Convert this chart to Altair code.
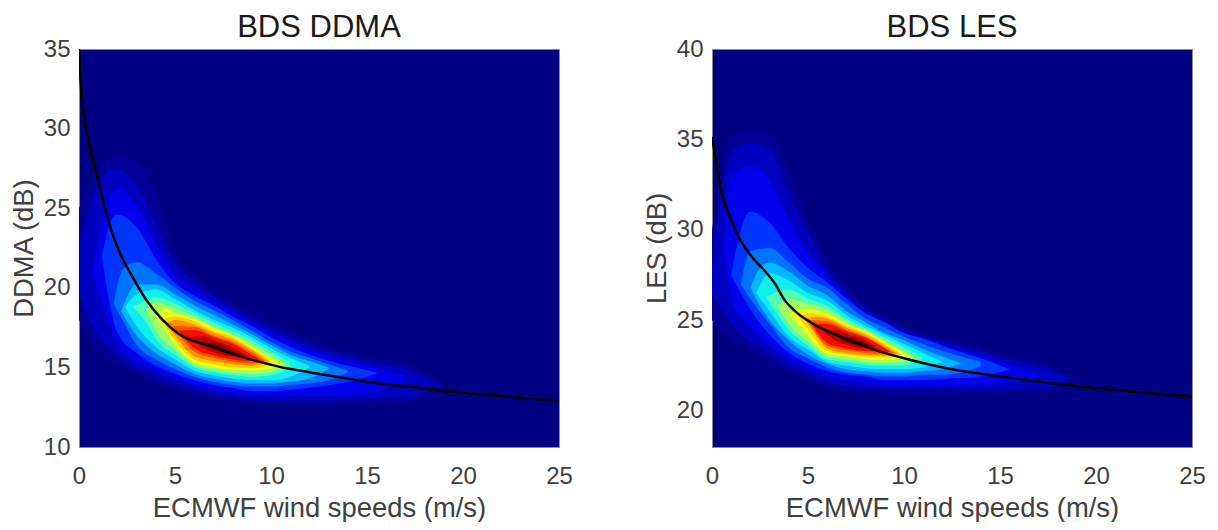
import altair as alt
import pandas as pd

NAVY = "#000082"
LEVEL_COLORS = ["#000096", "#0000c0", "#0000ec", "#0034ff", "#0074ff", "#00b8ff", "#10eef0", "#50ffb0",
                "#a0ff60", "#e8ff18", "#ffd000", "#ff9000", "#ff5000", "#f01000", "#b80000", "#800000"]

# DDMA density bands: (x, upper edge, lower edge), outermost first
ddma_x = [
    [0,1,2,3,4,5,6,7.5,10,12.5,15,17.5,19],
    [0,1,2,3,4,5,6,7.5,10,12.5,15,17.5,18.5],
    [0.7,1.5,2,3,4,5,6,7.5,10,12.5,15,17],
    [1.2,1.6,2,3,4,5,6,7,8,9,10,11,12.5,14,15.5],
    [1.8,2.3,3,4,5,6,7,8,9,10,11,12,13,14],
    [2.2,3,4,5,6,7,8,9,10,11,12,13],
    [2.4,3,4,5,6,7,8,9,10,11,12],
    [2.8,3.5,4,5,6,7,8,9,10,11],
    [3.5,4,5,6,7,8,9,10,10.8],
    [4,4.5,5,6,7,8,9,10,10.6],
    [4.3,5,6,7,8,9,10],
    [4.6,5,6,7,8,9,9.9],
    [4.9,6,7,8,9,9.7],
    [5.2,6,7,8,9,9.4],
    [5.8,6.5,7,8,8.8],
    [6.3,7,8,8.3],
]
ddma_hi = [
    [25,27.5,28.3,28,26,22.5,20.8,19.4,17.8,16.5,15.7,15,14],
    [22.5,26.5,27.5,26.5,24,21.5,20.4,19.1,17.5,16.2,15.4,14.7,14.1],
    [21,25.5,26.2,25.2,22.8,20.8,19.9,18.8,17.2,15.9,15.1,14.5],
    [22,24,24.6,23.8,21.8,20.3,19.5,18.9,18.2,17.6,16.9,16.3,15.6,15.1,14.7],
    [19,21.2,21.6,20.9,20,19.2,18.6,18,17.3,16.6,16,15.6,15.2,14.8],
    [18.5,20.2,20.2,19.6,18.9,18.3,17.7,17.1,16.4,15.8,15.4,15],
    [18.8,19.6,19.9,19.3,18.6,18,17.5,16.9,16.2,15.6,15.1],
    [18.8,19.2,19.4,19,18.4,17.8,17.3,16.7,16,15.3],
    [18.6,19.1,18.7,18.2,17.6,17.1,16.5,15.8,15.2],
    [18.2,18.7,18.4,18.05,17.5,17,16.3,15.6,15.2],
    [18,18.2,17.9,17.3,16.9,16.2,15.4],
    [17.7,18,17.7,17.2,16.75,16.1,15.35],
    [17.6,17.55,17,16.6,15.95,15.4],
    [17.3,17.35,16.9,16.5,15.8,15.5],
    [16.9,16.95,16.7,16.25,15.7],
    [16.6,16.55,16.05,15.85],
]
ddma_lo = [
    [18,16,15.2,14.5,14,13.6,13.3,13,12.7,12.6,12.7,12.9,13.5],
    [19.5,17,15.8,15,14.4,14,13.6,13.2,12.9,12.9,13,13.2,14],
    [21,18,16.5,15.4,14.8,14.3,13.9,13.5,13.2,13.2,13.4,14.1],
    [22,19,17.2,15.9,15.1,14.6,14.2,13.9,13.7,13.5,13.5,13.6,13.8,14.1,14.6],
    [19,17.9,16.4,15.5,14.9,14.4,14.1,13.9,13.8,13.8,13.9,14,14.2,14.7],
    [18.5,17,15.9,15.2,14.6,14.3,14.1,14,14,14.1,14.3,14.9],
    [18.8,17.6,16.3,15.5,14.8,14.5,14.3,14.2,14.2,14.4,15],
    [18.8,17.8,16.8,15.8,15,14.7,14.5,14.4,14.5,15],
    [18.6,17.3,16.1,15.15,14.85,14.65,14.6,14.7,15.2],
    [18.2,17.3,16.4,15.3,15,14.85,14.8,14.9,15.2],
    [18,16.7,15.5,15.2,15,14.95,15.2],
    [17.7,17,15.7,15.4,15.2,15.1,15.35],
    [17.6,16,15.6,15.35,15.25,15.4],
    [17.3,16.2,15.75,15.5,15.4,15.5],
    [16.9,16.2,15.95,15.7,15.7],
    [16.6,16.15,15.85,15.85],
]
ddma_curve_x = [0,0.08,0.18,0.36,0.6,0.87,1.3,1.74,2.26,2.78,3.47,4.34,5.2,6.94,8.68,10.4,12,14,15,17,20,22,25]
ddma_curve_y = [35,33,31.5,30,28.6,27.4,25.2,23.4,21.85,20.7,19.3,18,17.1,16.3,15.6,15.05,14.7,14.3,14.1,13.8,13.4,13.2,12.9]

# LES density bands
les_x = [
    [0,1,2,3,4,5,6,7.5,10,12.5,15,17.5,19],
    [0,1,2,3,4,5,6,7.5,10,12.5,15,17.5,18.5],
    [0.6,1,2,3,4,5,6,7.5,10,12.5,15,17],
    [1,1.5,2,3,4,5,6,7,8,9,10,11,12.5,14,15.5],
    [1.5,2,3,4,5,6,7,8,9,10,11,12,13,14],
    [2,2.5,3,4,5,6,7,8,9,10,11,12,13],
    [2.3,3,4,5,6,7,8,9,10,11,12],
    [2.8,3.5,4,5,6,7,8,9,10,11],
    [3.4,4,5,6,7,8,9,10,10.6],
    [4,4.4,5,6,7,8,9,10,10.3],
    [4.5,5,6,7,8,9,9.9],
    [4.8,5.5,6,7,8,9,9.7],
    [5,6,7,8,9,9.5],
    [5.2,6,7,8,9,9.3],
    [5.8,6.5,7,8,8.6],
    [6.3,7,8,8.2],
]
les_hi = [
    [30,35,35.5,35.4,33.2,30.6,28.4,26.4,24.7,23.9,23.2,22.5,21.7],
    [27.8,34.3,34.8,34.5,32,29.8,27.9,26.1,24.5,23.7,23,22.3,21.9],
    [29,33,33.5,32.8,30.6,28.8,27.5,25.8,24.3,23.5,22.7,22.1],
    [27.5,30,31,30.4,29,27.9,27.1,26.2,25.4,24.9,24.3,24,23.4,22.9,22.3],
    [27,28.8,29,28.2,27.3,26.8,25.9,25.1,24.6,24.1,23.7,23.3,23,22.7],
    [26.8,27.9,28.2,27.7,26.9,26.4,25.5,24.9,24.3,23.9,23.4,23,22.6],
    [26.5,27.6,27.2,26.5,26.1,25.3,24.7,24.2,23.7,23.2,22.7],
    [26.3,26.6,26.7,26.2,25.8,25.1,24.55,24.05,23.5,22.9],
    [25.8,26.2,25.9,25.6,24.95,24.45,23.9,23.3,23],
    [25.3,25.6,25.6,25.4,24.8,24.4,23.8,23.2,23],
    [25.2,25.4,25.2,24.7,24.3,23.7,23.1],
    [25.1,25.2,25.1,24.6,24.2,23.6,23.2],
    [25,24.95,24.5,24.1,23.5,23.2],
    [24.8,24.8,24.4,24.05,23.45,23.25],
    [24.4,24.45,24.25,23.9,23.5],
    [24.2,24.1,23.75,23.6],
]
les_lo = [
    [25,24,23.3,22.6,22.1,21.7,21.3,21,20.9,20.9,21,21.1,21.5],
    [26.5,24.8,23.8,23.1,22.5,22,21.6,21.3,21.2,21.2,21.2,21.3,21.8],
    [29,26,24.6,23.6,22.9,22.3,21.9,21.6,21.4,21.4,21.5,21.9],
    [27.5,26.5,25.6,24.2,23.2,22.6,22.2,22,21.9,21.7,21.7,21.7,21.8,21.9,22.3],
    [27,26.2,24.8,23.5,22.9,22.4,22.1,22,21.9,21.9,22,22,22.1,22.5],
    [26.8,25.8,25,23.9,23.1,22.6,22.3,22.2,22.1,22.1,22.2,22.3,22.6],
    [26.5,25.5,24.1,23.4,22.7,22.5,22.35,22.3,22.3,22.4,22.7],
    [26.3,25.2,24.5,23.6,22.85,22.7,22.55,22.5,22.5,22.9],
    [25.8,24.8,23.8,23,22.85,22.7,22.65,22.7,23],
    [25.3,24.9,24.1,23.15,23,22.85,22.8,22.9,23],
    [25.2,24.5,23.3,23.1,23,22.95,23.1],
    [25.1,24.1,23.45,23.2,23.1,23.05,23.2],
    [25,23.6,23.35,23.2,23.15,23.2],
    [24.8,23.75,23.45,23.3,23.25,23.25],
    [24.4,23.85,23.65,23.45,23.5],
    [24.2,23.8,23.55,23.6],
]
les_curve_x = [0,0.26,0.52,0.87,1.39,2.08,2.78,3.3,3.73,4.34,5.2,6.94,8.68,10.4,12.5,15,17.5,20,22.5,25]
les_curve_y = [35.15,33.5,32,30.9,29.6,28.5,27.7,27,26.2,25.5,24.85,24,23.3,22.8,22.3,21.9,21.55,21.25,21,20.8]

TEXT = "#404040"
FONT = "Liberation Sans"


def panel(title, ylabel, ydomain, yticks, bx, bhi, blo, cx, cy):
    rows = []
    for i, (xs, his, los) in enumerate(zip(bx, bhi, blo)):
        for x, h, l in zip(xs, his, los):
            rows.append({"level": i, "x": x, "hi": h, "lo": l})
    bands = pd.DataFrame(rows)
    xs = alt.Scale(domain=[0, 25], nice=False, zero=False)
    ys = alt.Scale(domain=ydomain, nice=False, zero=False)
    xaxis = alt.Axis(values=[0, 5, 10, 15, 20, 25], grid=False, ticks=False, labelFontSize=24, titleFontSize=27.4,
                     labelPadding=17, titlePadding=6, labelColor=TEXT, titleColor=TEXT, domainColor="#8a8a8a",
                     labelFont=FONT, titleFont=FONT, titleFontWeight="normal", labelFlush=False, format="d")
    yaxis = alt.Axis(values=yticks, grid=False, ticks=False, labelFontSize=24, titleFontSize=27.4,
                     labelPadding=9, titlePadding=5, labelColor=TEXT, titleColor=TEXT, domainColor="#8a8a8a",
                     labelFont=FONT, titleFont=FONT, titleFontWeight="normal", format="d")
    area = alt.Chart(bands).mark_area(interpolate="monotone", clip=True).encode(
        x=alt.X("x:Q", scale=xs, axis=xaxis, title="ECMWF wind speeds (m/s)"),
        y=alt.Y("hi:Q", scale=ys, axis=yaxis, title=ylabel),
        y2=alt.Y2("lo:Q"),
        color=alt.Color("level:O", scale=alt.Scale(domain=list(range(16)), range=LEVEL_COLORS), legend=None),
    )
    line = alt.Chart(pd.DataFrame({"x": cx, "y": cy})).mark_line(
        color="#000000", strokeWidth=2.5, clip=True, interpolate="monotone"
    ).encode(x=alt.X("x:Q", scale=xs), y=alt.Y("y:Q", scale=ys))
    return alt.layer(area, line).properties(
        width=480, height=398,
        title=alt.TitleParams(title, fontSize=31, font=FONT, fontWeight="normal", color="#1a1a1a", offset=-7),
    )


left = panel("BDS DDMA", "DDMA (dB)", [10, 35], [10, 15, 20, 25, 30, 35],
             ddma_x, ddma_hi, ddma_lo, ddma_curve_x, ddma_curve_y)
right = panel("BDS LES", "LES (dB)", [18, 40], [20, 25, 30, 35, 40],
              les_x, les_hi, les_lo, les_curve_x, les_curve_y)

chart = alt.hconcat(left, right, spacing=69).resolve_scale(color="independent").properties(
    padding={"left": 1, "top": 3, "right": 0, "bottom": 0}
).configure_view(fill=NAVY, stroke="#8a8a8a", strokeWidth=1)

chart.save("out.html", embed_options={"renderer": "svg", "actions": False})
